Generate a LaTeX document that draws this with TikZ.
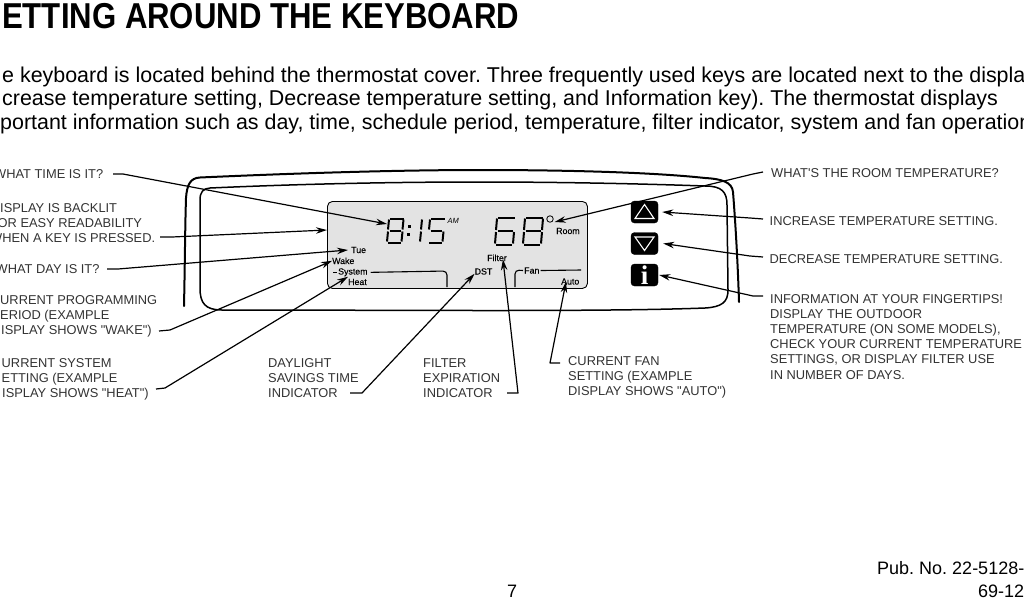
\documentclass[tikz,border=0pt]{standalone}
\usepackage{fontspec}
\setmainfont{Liberation Sans}
\usetikzlibrary{arrows.meta}
\definecolor{lcdgray}{HTML}{E3E3E3}
\definecolor{labelgray}{HTML}{333333}
\newfontfamily\serifbold[BoldFont={Liberation Serif Bold}]{Liberation Serif}
\newfontfamily\lcdfont[FakeBold=0.2]{Liberation Sans}
\frenchspacing
\tikzset{
  lbl/.style={font=\fontsize{12.85}{15.2}\selectfont, text=labelgray, anchor=north west, inner sep=0pt, align=left},
  lcdtxt/.style={font=\fontsize{8.8}{10}\selectfont\lcdfont, text=black, anchor=base west, inner sep=0pt},
  bodytxt/.style={font=\fontsize{21.43}{24}\selectfont, text=black, anchor=base west, inner sep=0pt},
  foot/.style={font=\fontsize{18}{20}\selectfont, text=black, anchor=base west, inner sep=0pt},
  conn/.style={draw=black, line width=1.2pt, line join=round, -{Stealth[length=11pt,width=6.5pt]}},
  bezel/.style={draw=black, line cap=round},
  lcdline/.style={draw=black, line width=1.1pt, rounded corners=4pt},
  seg/.style={draw=black, line width=2pt, line cap=butt},
  keybtn/.style={draw=black, fill=black, rounded corners=3.5pt, minimum width=27pt, minimum height=22pt, inner sep=0pt},
  tri/.style={draw=white, line width=1.1pt, line join=miter, fill=black}
}
% one macro per segment of a seven-segment digit
\newcommand{\sega}{\draw[seg] ({\dx+3},{\dy}) -- ({\dx+\dw},{\dy});}
\newcommand{\segb}{\draw[seg] ({\dx+\dw},{\dy+1}) -- ({\dx+\dw-1},{\dy+\dh/2-1});}
\newcommand{\segc}{\draw[seg] ({\dx+\dw-1},{\dy+\dh/2+1}) -- ({\dx+\dw-2},{\dy+\dh-1});}
\newcommand{\segd}{\draw[seg] ({\dx+1},{\dy+\dh}) -- ({\dx+\dw-3},{\dy+\dh});}
\newcommand{\sege}{\draw[seg] ({\dx+1},{\dy+\dh/2+1}) -- ({\dx},{\dy+\dh-1});}
\newcommand{\segf}{\draw[seg] ({\dx+2},{\dy+1}) -- ({\dx+1},{\dy+\dh/2-1});}
\newcommand{\segg}{\draw[seg] ({\dx+2.5},{\dy+\dh/2}) -- ({\dx+\dw-2.5},{\dy+\dh/2});}
\newcommand{\segdigit}[5]{%
  \def\dx{#1}\def\dy{#2}\def\dw{#3}\def\dh{#4}%
  \foreach \sg in {#5}{\csname seg\sg\endcsname}%
}
\begin{document}
\begin{tikzpicture}[x=1pt,y=-1pt]
\clip (0,0) rectangle (1024,600);
\fill[white] (0,0) rectangle (1024,600);

% headings
\node[anchor=base west, inner sep=0pt, text=black] (title) at (2,28)
  {\scalebox{0.865}[1]{\fontsize{36}{40}\selectfont\bfseries ETTING AROUND THE KEYBOARD}};
\node[bodytxt] (b1) at (2,82.5) {e keyboard is located behind the thermostat cover. Three frequently used keys are located next to the displa};
\node[bodytxt] (b2) at (2,105.5) {crease temperature setting, Decrease temperature setting, and Information key). The thermostat displays};
\node[bodytxt] (b3) at (0,129.5) {portant information such as day, time, schedule period, temperature, filter indicator, system and fan operation};

% bezel
\draw[bezel, line width=2pt] (184,306) .. controls (185,260) and (185,230) .. (186,198)
  .. controls (187,185) and (190,178) .. (200,177.5)
  .. controls (300,173) and (400,170) .. (480,170)
  .. controls (560,170) and (650,172) .. (705,178)
  .. controls (722,179) and (732,182) .. (733,192)
  .. controls (736,230) and (738,270) .. (739,302);
\draw[bezel, line width=1.5pt] (210,188) .. controls (203,188.5) and (200,192) .. (200,200)
  -- (200,288) .. controls (200,303) and (205,310) .. (222,310)
  .. controls (400,310) and (600,312) .. (705,308)
  .. controls (722,307) and (728,302) .. (728,290)
  -- (727,205) .. controls (727,192) and (722,186) .. (705,186)
  .. controls (620,183) and (540,182) .. (480,182)
  .. controls (390,182) and (300,184) .. (210,188);

% LCD
\node[draw=black, fill=lcdgray, line width=0.9pt, rounded corners=5pt, minimum width=260pt, minimum height=87pt, inner sep=0pt, anchor=north west] (lcd) at (327,201) {};
\segdigit{387}{218.5}{16.5}{24}{a,b,c,d,e,f,g}
\node[fill=black, minimum size=3pt, inner sep=0pt] (cola) at (409,226) {};
\node[fill=black, minimum size=3pt, inner sep=0pt] (colb) at (408,234) {};
\segdigit{419}{218.5}{3}{24}{b,c}
\segdigit{428}{218.5}{16.5}{24}{a,f,g,c,d}
\segdigit{495}{217.5}{20}{27}{a,f,g,e,c,d}
\segdigit{523}{217.5}{20}{27}{a,b,c,d,e,f,g}
\node[draw=black, circle, line width=0.8pt, fill=lcdgray, minimum size=6.5pt, inner sep=0pt] (roomdot) at (550,219) {};
\node[anchor=base west, inner sep=0pt, font=\fontsize{7.5}{9}\selectfont\itshape] (am) at (447.5,223) {AM};
\node[lcdtxt] (room) at (556,234) {Room};
\node[lcdtxt] (tue) at (351,253) {Tue};
\node[lcdtxt] (wake) at (332,264) {Wake};
\node[lcdtxt] (system) at (338,274.5) {System};
\node[lcdtxt] (heat) at (348,285) {Heat};
\node[lcdtxt] (dst) at (474.5,274.5) {DST};
\node[lcdtxt] (filter) at (487,261) {Filter};
\node[lcdtxt] (fan) at (524,273.5) {Fan};
\node[lcdtxt] (auto) at (561,284.5) {Auto};
\draw[draw=black, line width=1.2pt] ([xshift=-5pt]system.west) -- ([xshift=-1.5pt]system.west);
\draw[lcdline] ([xshift=3pt]system.east) -- (447,271) -- (447,287);
\draw[lcdline] (515,287) -- (515,270) -- ([xshift=-1pt]fan.west);
\draw[lcdline] ([xshift=1pt]fan.east) -- (581,270);

% keys
\node[keybtn] (up) at (644.5,212) {};
\draw[tri] (644.5,204.5) -- (654,218.5) -- (635,218.5) -- cycle;
\node[keybtn] (down) at (644.5,243.5) {};
\draw[tri] (635,237) -- (654,237) -- (644.5,250.5) -- cycle;
\node[keybtn, text=white, font=\fontsize{27}{27}\serifbold\bfseries] (info) at (644.5,275) {i};

% labels
\node[lbl] (lTime) at (-6,169) {WHAT TIME IS IT?};
\node[lbl] (lBack) at (0,203) {ISPLAY IS BACKLIT\\[0pt]\hspace*{-2.5pt}OR EASY READABILITY\\[0pt]\hspace*{-10pt}WHEN A KEY IS PRESSED.};
\node[lbl] (lDay) at (-4.5,264) {WHAT DAY IS IT?};
\node[lbl] (lProg) at (0,295) {URRENT PROGRAMMING\\[0pt]ERIOD (EXAMPLE\\[0pt]\hspace*{1pt}ISPLAY SHOWS \textquotedbl WAKE\textquotedbl)};
\node[lbl] (lSys) at (1.5,358) {URRENT SYSTEM\\[0pt]ETTING (EXAMPLE\\[0pt]\hspace*{0.5pt}ISPLAY SHOWS \textquotedbl HEAT\textquotedbl)};
\node[lbl] (lDst) at (268,358) {DAYLIGHT\\[0pt]SAVINGS TIME\\[0pt]INDICATOR};
\node[lbl] (lFil) at (423,358) {FILTER\\[0pt]EXPIRATION\\[0pt]INDICATOR};
\node[lbl] (lFan) at (568,356) {CURRENT FAN\\[0pt]SETTING (EXAMPLE\\[0pt]DISPLAY SHOWS \textquotedbl AUTO\textquotedbl)};
\node[lbl] (lRoom) at (771,168) {WHAT\textquotesingle S THE ROOM TEMPERATURE?};
\node[lbl] (lInc) at (769.5,216) {INCREASE TEMPERATURE SETTING.};
\node[lbl] (lDec) at (769.5,254) {DECREASE TEMPERATURE SETTING.};
\node[lbl] (lInfo) at (770,294) {INFORMATION AT YOUR FINGERTIPS!\\[0pt]DISPLAY THE OUTDOOR\\[0pt]TEMPERATURE (ON SOME MODELS),\\[0pt]CHECK YOUR CURRENT TEMPERATURE\\[0pt]SETTINGS, OR DISPLAY FILTER USE\\[0pt]IN NUMBER OF DAYS.};

% footer
\node[foot] (pub) at (877,574) {Pub. No. 22-5128-};
\node[foot] (rev) at (978,597.5) {69-12};
\node[foot] (pg) at (507,597.5) {7};

% connector end coordinates
\coordinate (sTime) at (113,174);
\coordinate (sBack) at (160,237);
\coordinate (sDay) at (107,269);
\coordinate (sProg) at (159,331);
\coordinate (sSys) at (156,389);
\coordinate (sDst) at (350,393);
\coordinate (sFil) at (507,393);
\coordinate (sFan) at (560,363);
\coordinate (sRoom) at (763,172);
\coordinate (sInc) at (763,219);
\coordinate (sDec) at (763,257);
\coordinate (sInfo) at (763,296);

% connectors
\draw[conn] (sTime) -- ++(10,0) -- (387,224);
\draw[conn] (sBack) -- ++(12,0) -- (lcd.west |- 0,230);
\draw[conn] (sDay) -- ++(11,0) -- ([xshift=-3pt]tue.west);
\draw[conn] (sProg) -- ++(11,-1) -- (wake.west);
\draw[conn] (sSys) -- ++(9,-1) -- ([xshift=0pt,yshift=2pt]heat.north west);
\draw[conn] (sDst) -- ++(12,0) -- ([yshift=1pt]dst.south west);
\draw[conn] (sFil) -- ++(11,0) -- ([xshift=-4pt,yshift=2pt]filter.south east);
\draw[conn] (sFan) -- ++(-10,0) -- ([xshift=5pt,yshift=3pt]auto.south west);
\draw[conn] (sRoom) -- ++(-10,2) -- ([xshift=1pt,yshift=-3pt]roomdot.east);
\draw[conn] (sInc) -- ++(-13,-1) -- ([xshift=4pt]up.east);
\draw[conn] (sDec) -- ++(-13,-1) -- ([xshift=5pt]down.east);
\draw[conn] (sInfo) -- ++(-10,0) -- ([xshift=1pt]info.east);
\end{tikzpicture}
\end{document}
